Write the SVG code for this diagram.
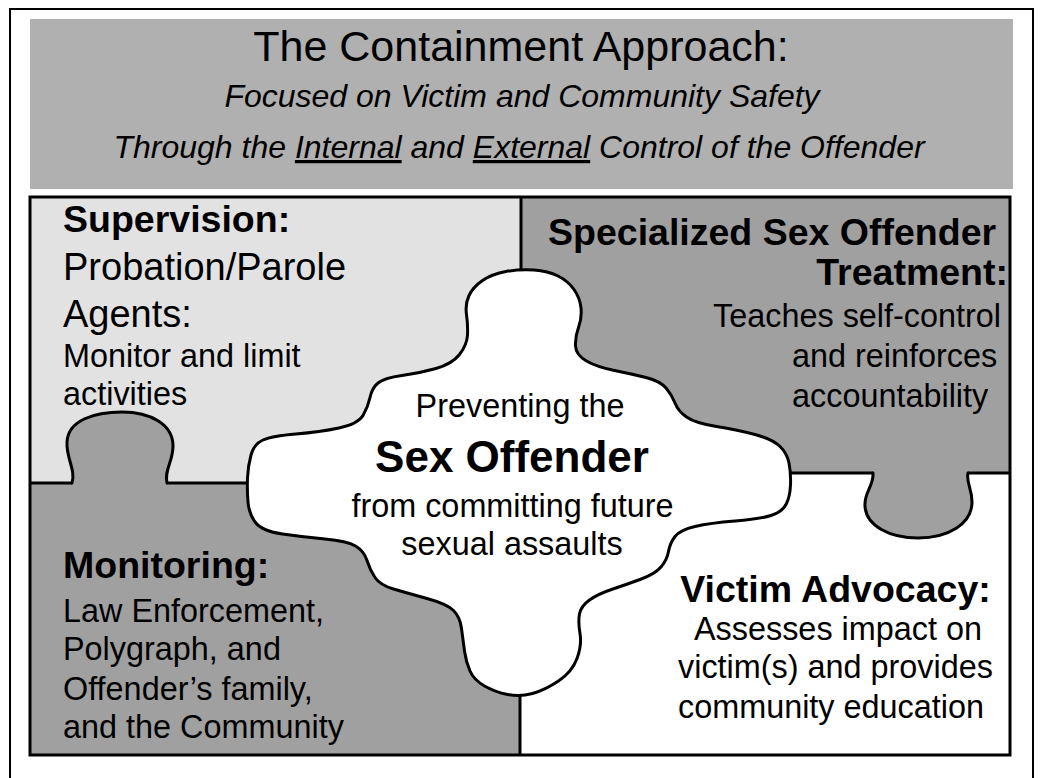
<svg xmlns="http://www.w3.org/2000/svg" width="1040" height="778" viewBox="0 0 1040 778">
  <style>
    text { font-family: "Liberation Sans", Arial, sans-serif; fill: #000; }
    .title { font-size: 43px; }
    .sub { font-size: 32px; font-style: italic; }
    .head { font-size: 37.5px; font-weight: bold; }
    .big { font-size: 38px; }
    .body { font-size: 32.4px; }
    .mid { text-anchor: middle; }
    .end { text-anchor: end; }
    .light { fill: #e2e2e2; }
    .dark { fill: #a0a0a0; }
    .white { fill: #ffffff; }
    .edge { stroke: #000; stroke-width: 3; stroke-linejoin: round; stroke-linecap: round; }
    .seam { fill: none; stroke: #000; stroke-width: 3; }
  </style>

  <!-- page frame -->
  <rect x="10" y="9" width="1023" height="800" fill="#fff" stroke="#000" stroke-width="2"/>

  <!-- banner -->
  <g id="header">
    <rect x="30" y="19" width="983" height="170" fill="#b0b0b0"/>
    <text class="title mid" x="521" y="61">The Containment Approach:</text>
    <text class="sub mid" x="522" y="107">Focused on Victim and Community Safety</text>
    <text class="sub mid" x="519" y="158">Through the <tspan text-decoration="underline">Internal</tspan> and <tspan text-decoration="underline">External</tspan> Control of the Offender</text>
  </g>

  <!-- top-left piece -->
  <g id="supervision">
    <rect class="light" x="30" y="197" width="491" height="286"/>
    <text class="head" x="63" y="232">Supervision:</text>
    <text class="big" x="63" y="280">Probation/Parole</text>
    <text class="big" x="63" y="327">Agents:</text>
    <text class="body" x="63" y="367">Monitor and limit</text>
    <text class="body" x="63" y="405">activities</text>
  </g>

  <!-- bottom-right piece -->
  <g id="advocacy">
    <rect class="white" x="520" y="473" width="490" height="282"/>
    <text class="head mid" x="835.5" y="602">Victim Advocacy:</text>
    <text class="body mid" x="838" y="640">Assesses impact on</text>
    <text class="body mid" x="835.5" y="678">victim(s) and provides</text>
    <text class="body mid" x="831" y="718">community education</text>
  </g>

  <!-- top-right piece with its tab reaching down -->
  <g id="treatment">
    <rect class="dark" x="521" y="197" width="489" height="276"/>
    <path class="dark edge" d="M 873 473 C 874 486, 864 492, 865 506 C 866 526, 890 538, 918 538 C 948 538, 972 524, 972 502 C 972 488, 966 483, 968 473"/>
    <text class="head" x="548" y="245">Specialized Sex Offender</text>
    <text class="head end" x="1008" y="285">Treatment:</text>
    <text class="body" x="713" y="327">Teaches self-control</text>
    <text class="body" x="792" y="367">and reinforces</text>
    <text class="body" x="792" y="407">accountability</text>
  </g>

  <!-- bottom-left piece with its tab reaching up -->
  <g id="monitoring">
    <rect class="dark" x="30" y="483" width="490" height="272"/>
    <path class="dark edge" d="M 72 483 C 76 470, 66 458, 67 442 C 68 420, 95 412, 122 412 C 150 412, 173 424, 173 446 C 173 462, 164 470, 167 483"/>
    <text class="head" x="63" y="578">Monitoring:</text>
    <text class="body" x="63" y="622">Law Enforcement,</text>
    <text class="body" x="63" y="660">Polygraph, and</text>
    <text class="body" x="63" y="700">Offender’s family,</text>
    <text class="body" x="63" y="738">and the Community</text>
  </g>

  <!-- straight seams between the outer pieces -->
  <g id="connectors">
    <path class="seam" d="M 521 197 V 280"/>
    <path class="seam" d="M 520 685 V 755"/>
    <path class="seam" d="M 30 483 H 72 M 167 483 H 255"/>
    <path class="seam" d="M 780 473 H 873 M 968 473 H 1010"/>
  </g>

  <!-- central piece -->
  <g id="center">
    <path class="white edge" d="M 506 271.5
      Q 520 269 534 270 Q 548 271 558 276 Q 568 281 574 289.5 Q 580 298 581 308
      Q 582 318 578.5 327.5 Q 575 337 575.5 346 Q 576 355 586.5 361 Q 597 367 614.5 370.5
      Q 632 374 646 377.5 Q 660 381 666 388 Q 672 395 675 403 Q 678 411 686.5 417
      Q 695 423 716.5 426.5 Q 738 430 755 434.5 Q 772 439 779.5 446 Q 787 453 789 463
      Q 791 473 790.5 485 Q 790 497 786 504.5 Q 782 512 771 515.5 Q 760 519 735 521
      Q 710 523 695 526.5 Q 680 530 675 536.5 Q 670 543 668.5 551.5 Q 667 560 661 567
      Q 655 574 640 579.5 Q 625 585 611.5 589.5 Q 598 594 589.5 600 Q 581 606 579.5 614
      Q 578 622 580 633.5 Q 582 645 577 658.5 Q 572 672 558.5 681 Q 545 690 532.5 693.5
      Q 520 697 507.5 694.5 Q 495 692 484.5 686 Q 474 680 470 671 Q 466 662 464.5 651
      Q 463 640 461.5 628.5 Q 460 617 453.5 610.5 Q 447 604 427 598.5 Q 407 593 393.5 589
      Q 380 585 375 577.5 Q 370 570 367 560.5 Q 364 551 355.5 546 Q 347 541 325 539
      Q 303 537 282.5 534 Q 262 531 255.5 522.5 Q 249 514 248 502 Q 247 490 247.5 478
      Q 248 466 251 455 Q 254 444 263 440 Q 272 436 296 434 Q 320 432 339 428
      Q 358 424 363 415.5 Q 368 407 370 397.5 Q 372 388 378 383 Q 384 378 402 375.5
      Q 420 373 436 368.5 Q 452 364 459.5 354.5 Q 467 345 467.5 335 Q 468 325 466.5 314.5
      Q 465 304 469 295.5 Q 473 287 482.5 280.5 Q 492 274 506 271.5 Z"/>
    <text class="body mid" x="520" y="417">Preventing the</text>
    <text class="mid" x="512" y="472" font-size="44" font-weight="bold">Sex Offender</text>
    <text class="body mid" x="512.5" y="517">from committing future</text>
    <text class="body mid" x="512" y="555">sexual assaults</text>
  </g>

  <!-- puzzle border -->
  <rect x="30" y="197" width="980" height="558" fill="none" stroke="#000" stroke-width="3"/>
</svg>
